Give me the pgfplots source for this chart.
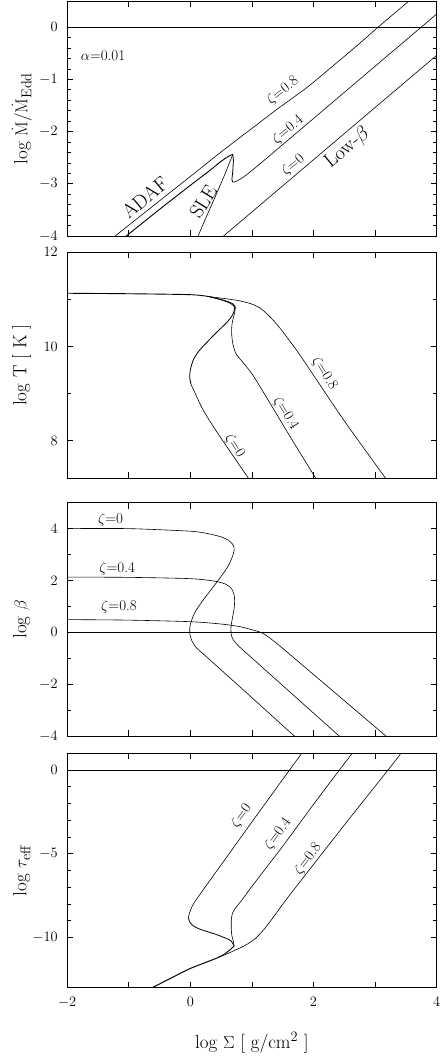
\documentclass[border=0pt]{standalone}
\usepackage{pgfplots}
\pgfplotsset{compat=1.18}
\begin{document}
\pgfplotsset{
  panel/.style={
    scale only axis, width=369.5pt,
    xmin=-2, xmax=4,
    xtick={-2,...,4}, xticklabels={},
    tick align=inside, tick pos=both,
    major tick length=6pt, minor tick length=3.5pt,
    tick style={black, line width=0.6pt},
    axis line style={line width=0.8pt},
    every tick label/.append style={font=\fontsize{14}{16}\selectfont},
    yticklabel style={xshift=-6pt},
    xticklabel style={yshift=-6pt},
    label style={font=\fontsize{19}{22}\selectfont},
    ylabel style={at={(axis description cs:-0.123,0.5)}, anchor=center},
    clip=true,
  },
  curve/.style={black, line width=0.6pt, no markers},
  sm/.style={smooth, tension=0.45},
}
\tikzset{
  zl/.style={font=\fontsize{15}{17}\selectfont, inner sep=0pt},
  bl/.style={font=\fontsize{20}{22}\selectfont, inner sep=0pt},
}
\begin{tikzpicture}
\useasboundingbox (-60.5pt,0pt) rectangle (375.5pt,-1056pt);

% log Mdot
\begin{axis}[panel, at={(0pt,-1pt)}, anchor=north west, height=235pt,
  ymin=-4, ymax=0.5, ytick={-4,...,0}, minor y tick num=4,
  ylabel={log $\dot{\mathrm{M}}/\dot{\mathrm{M}}_{\mathrm{Edd}}$}]
\addplot[curve] coordinates {(-2,0)(4,0)};
% zeta=0.8
\addplot[curve, sm] coordinates {(-1.22,-4.0)(-0.6,-3.42)(0,-2.86)(0.5,-2.39)(1.0,-1.94)(1.4,-1.58)(1.9,-1.15)(2.4,-0.66)(2.8,-0.26)(3.05,0)(3.55,0.5)};
% ADAF branch, zeta=0 and 0.4
\addplot[curve, sm, line width=0.9pt] coordinates {(-1.04,-4.0)(-0.5,-3.49)(0,-3.03)(0.3,-2.76)(0.5,-2.57)(0.6,-2.49)(0.66,-2.45)(0.69,-2.44)};
% zeta=0.4 after turning point
\addplot[curve, line width=0.8pt] coordinates {(0.69,-2.44)(0.70,-2.55)(0.69,-2.75)(0.675,-2.92)(0.69,-2.97)};
\addplot[curve, sm] coordinates {(0.69,-2.97)(0.75,-2.95)(0.9,-2.84)(1.2,-2.55)(1.6,-2.15)(2.0,-1.75)(2.5,-1.25)(3.0,-0.75)(3.5,-0.25)(4.0,0.25)};
% zeta=0 SLE branch
\addplot[curve] coordinates {(0.69,-2.44)(0.55,-2.85)(0.4,-3.26)(0.25,-3.66)(0.126,-4.0)};
% zeta=0 low-beta branch
\addplot[curve] coordinates {(0.54,-4.0)(1.0,-3.54)(2.0,-2.54)(3.0,-1.54)(4.0,-0.54)};
\node[zl, anchor=west] at (axis cs:-1.78,-0.54) {$\alpha$=0.01};
\node[bl, rotate=40] at (axis cs:-0.74,-3.26) {ADAF};
\node[bl, rotate=58] at (axis cs:0.21,-3.34) {SLE};
\node[zl, rotate=38] at (axis cs:1.50,-1.22) {$\zeta$=0.8};
\node[zl, rotate=40] at (axis cs:1.585,-1.97) {$\zeta$=0.4};
\node[zl, rotate=40] at (axis cs:1.67,-2.64) {$\zeta$=0};
\node[bl, rotate=40] at (axis cs:2.55,-2.31) {Low-$\beta$};
\end{axis}

% log T
\begin{axis}[panel, at={(0pt,-252.3pt)}, anchor=north west, height=226pt,
  ymin=7.2, ymax=12, ytick={8,10,12}, minor y tick num=1,
  ylabel={log T [ K ]}]
\addplot[curve, sm, line width=0.9pt] coordinates {(-2,11.13)(-1,11.12)(0,11.1)(0.3,11.06)};
\addplot[curve, sm] coordinates {(0.3,11.06)(0.6,11.01)(0.8,10.97)(1.0,10.9)(1.15,10.8)(1.3,10.62)(1.45,10.4)(1.6,10.14)(1.8,9.78)(2.5,8.42)(3.2,7.15)};
\addplot[curve, sm] coordinates {(0.3,11.06)(0.5,11.0)(0.62,10.95)(0.7,10.9)(0.73,10.84)(0.72,10.72)(0.68,10.5)(0.67,10.3)(0.69,10.06)(0.74,9.85)(0.83,9.7)(1.0,9.42)(1.2,9.0)(1.6,8.13)(2.06,7.15)};
\addplot[curve, sm, line width=0.8pt] coordinates {(0.3,11.06)(0.5,10.99)(0.63,10.93)(0.7,10.87)(0.72,10.82)(0.69,10.68)(0.6,10.52)(0.45,10.33)(0.3,10.13)(0.15,9.92)(0.05,9.72)(0.0,9.5)(-0.01,9.35)(0.01,9.2)};
\addplot[curve, sm] coordinates {(0.01,9.2)(0.08,9.0)(0.18,8.72)(0.3,8.45)(0.5,8.05)(0.97,7.15)};
\node[zl, rotate=-58] at (axis cs:2.18,9.42) {$\zeta$=0.8};
\node[zl, rotate=-58] at (axis cs:1.55,8.57) {$\zeta$=0.4};
\node[zl, rotate=-58] at (axis cs:0.72,7.89) {$\zeta$=0};
\end{axis}

% log beta
\begin{axis}[panel, at={(0pt,-502.7pt)}, anchor=north west, height=233.3pt,
  ymin=-4, ymax=5, ytick={-4,-2,...,4}, minor y tick num=1,
  ylabel={log $\beta$}]
\addplot[curve] coordinates {(-2,0)(4,0)};
\addplot[curve, sm] coordinates {(-2,4.0)(-1,4.0)(0,3.9)(0.3,3.8)(0.5,3.68)(0.62,3.55)(0.7,3.35)(0.71,3.15)(0.68,2.9)(0.6,2.5)(0.42,1.9)(0.21,1.25)(0.07,0.75)(0.0,0.3)(-0.01,0.0)(0.02,-0.3)(0.1,-0.6)(0.26,-0.94)(1.0,-2.52)(1.71,-4.05)};
\addplot[curve, sm] coordinates {(-2,2.13)(-1,2.12)(0,2.07)(0.4,1.97)(0.58,1.85)(0.67,1.68)(0.71,1.45)(0.72,1.2)(0.71,0.9)(0.68,0.5)(0.66,0.2)(0.665,-0.1)(0.7,-0.3)(0.78,-0.52)(0.91,-0.8)(2.44,-4.05)};
\addplot[curve, sm] coordinates {(-2,0.49)(-1,0.47)(0,0.41)(0.5,0.32)(0.8,0.22)(1.0,0.1)(1.18,-0.04)(1.35,-0.33)(1.61,-0.84)(3.2,-4.05)};
\node[zl, anchor=south west] at (axis cs:-1.5,4.1) {$\zeta$=0};
\node[zl, anchor=south west] at (axis cs:-1.48,2.2) {$\zeta$=0.4};
\node[zl, anchor=south west] at (axis cs:-1.45,0.72) {$\zeta$=0.8};
\end{axis}

% log tau_eff
\begin{axis}[panel, at={(0pt,-753.3pt)}, anchor=north west, height=234.4pt,
  ymin=-13, ymax=1, ytick={-10,-5,0}, minor y tick num=4,
  xticklabels={$-2$,,$0$,,$2$,,$4$},
  ylabel={log $\tau_{\mathrm{eff}}$},
  xlabel={log $\Sigma$ [ g/cm$^2$ ]},
  xlabel style={at={(axis description cs:0.5,0)}, anchor=center, yshift=-55pt}]
\addplot[curve] coordinates {(-2,0)(4,0)};
\addplot[curve, sm, line width=1.0pt] coordinates {(-0.62,-13.0)(-0.3,-12.4)(0,-11.85)(0.3,-11.42)(0.45,-11.2)};
\addplot[curve, sm, line width=0.9pt] coordinates {(0.45,-11.2)(0.55,-11.0)(0.65,-10.72)(0.71,-10.5)};
\addplot[curve, sm, line width=0.8pt] coordinates {(0.71,-10.5)(0.66,-10.2)(0.58,-10.05)(0.42,-9.82)(0.25,-9.62)(0.12,-9.45)(0.03,-9.25)(-0.02,-9.0)(-0.03,-8.75)};
\addplot[curve, sm] coordinates {(-0.03,-8.75)(0.0,-8.4)(0.05,-8.0)(0.2,-7.2)(0.6,-5.15)(1.0,-3.1)(1.61,0)(1.81,1.0)};
\addplot[curve, sm] coordinates {(0.71,-10.5)(0.70,-10.25)(0.675,-9.9)(0.665,-9.5)(0.665,-9.0)(0.68,-8.6)(0.73,-8.25)(0.82,-7.85)(1.0,-6.95)(1.5,-4.55)(2.0,-2.05)(2.42,0)(2.63,1.0)};
\addplot[curve, sm] coordinates {(0.45,-11.2)(0.6,-10.97)(0.75,-10.72)(0.9,-10.45)(1.05,-10.08)(1.2,-9.5)(1.35,-8.78)(1.56,-7.72)(2.04,-5.45)(2.6,-2.82)(3.21,0)(3.42,1.0)};
\node[zl, rotate=54] at (axis cs:0.83,-2.74) {$\zeta$=0};
\node[zl, rotate=54] at (axis cs:1.42,-3.84) {$\zeta$=0.4};
\node[zl, rotate=54] at (axis cs:1.91,-5.33) {$\zeta$=0.8};
\end{axis}
\end{tikzpicture}
\end{document}
